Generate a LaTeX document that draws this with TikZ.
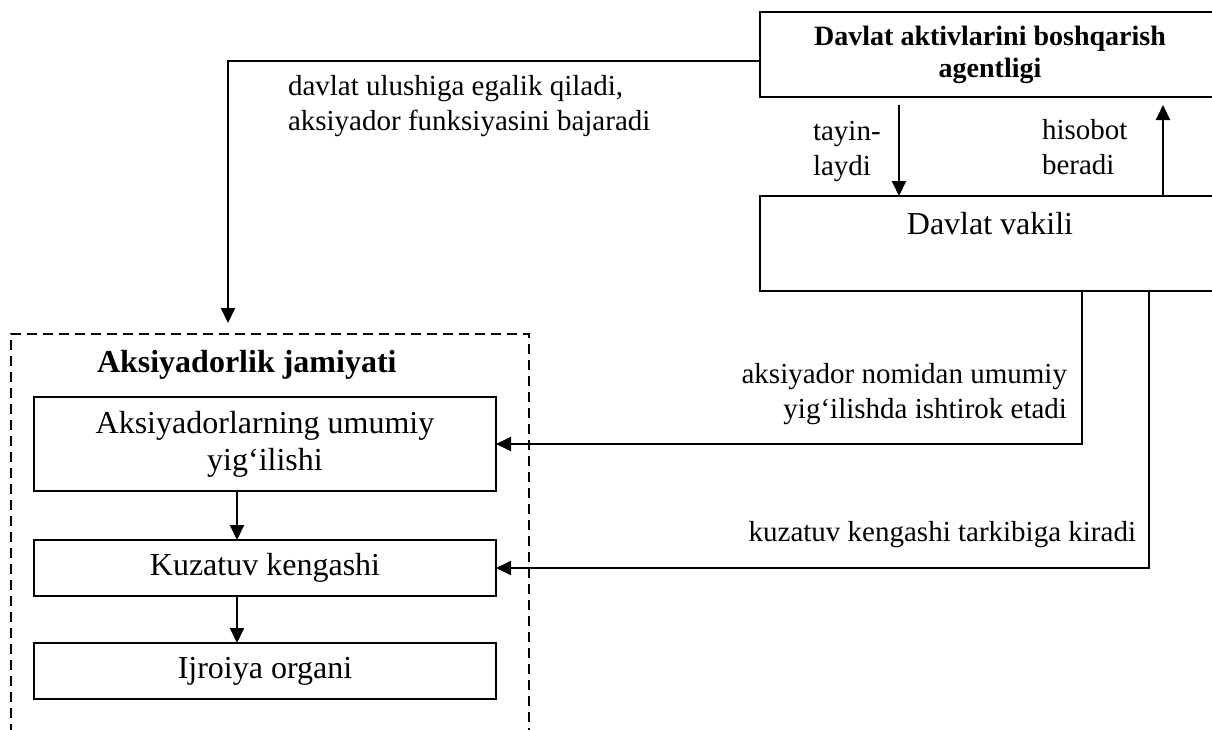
\documentclass[tikz,border=0pt]{standalone}
\usepackage{fontspec}
\setmainfont{Liberation Serif}
\usetikzlibrary{arrows.meta}
\newcommand\lblfont{\fontsize{29}{35}\selectfont}
\newcommand\boxfont{\fontsize{32}{37}\selectfont}
\newcommand\topfont{\fontsize{28}{32}\selectfont\bfseries}
\begin{document}
\begin{tikzpicture}[x=1pt,y=-1pt,
  box/.style={draw, line width=2.2pt, inner sep=0pt, outer sep=0pt, anchor=north west, align=center, font=\boxfont},
  frame/.style={draw, dashed, dash pattern=on 10pt off 6pt, line width=1.8pt, inner sep=0pt, outer sep=0pt, anchor=north west},
  conn/.style={line width=2pt, -{Triangle[length=15pt,width=14pt]}},
  lbl/.style={inner sep=0pt, outer sep=0pt, font=\lblfont}]
\useasboundingbox (0,0) rectangle (1212,729);
\clip (0,0) rectangle (1212,729);
% boxes
\node[box, font=\topfont, minimum width=460pt, minimum height=85pt] (ag) at (760,12)
  {Davlat aktivlarini boshqarish\\agentligi};
\node[box, minimum width=460pt, minimum height=95pt] (dv) at (760,196) {Davlat vakili\\[-8pt] \strut};
\node[frame, minimum width=518pt, minimum height=430pt] (aj) at (11,334) {};
\node[lbl, anchor=base west, font=\boxfont\bfseries] (ajt) at (97,372) {Aksiyadorlik jamiyati};
\node[box, minimum width=462pt, minimum height=94pt] (b1) at (34,397) {Aksiyadorlarning umumiy\\yig‘ilishi};
\node[box, minimum width=462pt, minimum height=56pt] (b2) at (34,540) {Kuzatuv kengashi};
\node[box, minimum width=462pt, minimum height=56pt] (b3) at (34,643) {Ijroiya organi};
% helper coordinates
\coordinate (t1) at (0,61);
\coordinate (c1) at (228,61);
\coordinate (d1) at (899,0);
\coordinate (u1) at (1163,0);
\coordinate (v1) at (1082,0);
\coordinate (v2) at (1149,0);
\coordinate (a1) at (237,0);
% connectors
\draw[conn, shorten >=11pt] (ag.west |- t1) -- (c1) -- (c1 |- aj.north);
\draw[conn, shorten <=8pt] (ag.south -| d1) -- (dv.north -| d1);
\draw[conn, shorten >=8pt] (dv.north -| u1) -- (ag.south -| u1);
\draw[conn] (dv.south -| v1) -- (v1 |- b1.east) -- (b1.east);
\draw[conn] (dv.south -| v2) -- (v2 |- b2.east) -- (b2.east);
\draw[conn] (b1.south -| a1) -- (b2.north -| a1);
\draw[conn] (b2.south -| a1) -- (b3.north -| a1);
% labels (base anchor = last line baseline)
\node[lbl, anchor=base west, align=left] (l1) at (288,130) {davlat ulushiga egalik qiladi,\\aksiyador funksiyasini bajaradi};
\node[lbl, anchor=base west, align=left] (l2) at (813,175) {tayin-\\laydi};
\node[lbl, anchor=base west, align=left] (l3) at (1042,174) {hisobot\\beradi};
\node[lbl, anchor=base east, align=right] (l4) at (1067,418) {aksiyador nomidan umumiy\\yig‘ilishda ishtirok etadi};
\node[lbl, anchor=base east] (l5) at (1136,541) {kuzatuv kengashi tarkibiga kiradi};
\end{tikzpicture}
\end{document}
